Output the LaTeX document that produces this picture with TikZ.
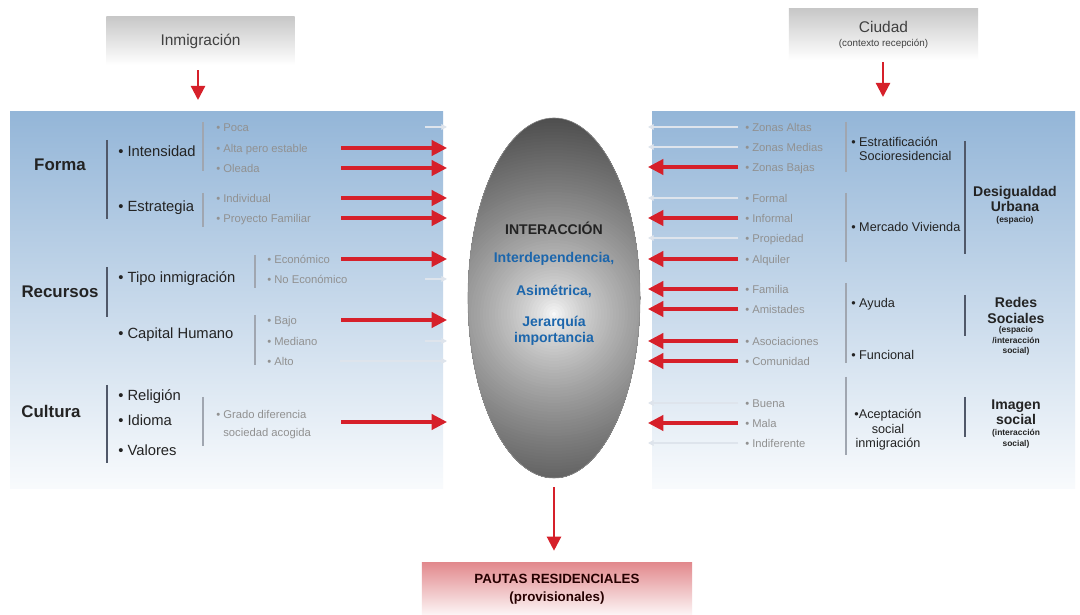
\documentclass[tikz,border=0pt]{standalone}
\usepackage{fontspec}
\setmainfont{Liberation Sans}
\usetikzlibrary{arrows.meta,shapes.geometric}

\definecolor{rojo}{RGB}{214,32,42}
\definecolor{azulpanel}{RGB}{148,182,216}
\definecolor{textogris}{RGB}{145,145,145}
\definecolor{oscuro}{RGB}{35,35,35}
\definecolor{azultexto}{RGB}{28,102,172}
\definecolor{grisosc}{RGB}{80,88,105}
\definecolor{grisclr}{RGB}{160,166,176}
\definecolor{tenuecol}{RGB}{222,228,236}
\definecolor{rosa}{RGB}{226,138,142}
\definecolor{griscaja}{RGB}{200,200,200}

\begin{document}
\begin{tikzpicture}[x=0.025cm, y=-0.025cm,
    flecha/.style={rojo, line width=2.2pt, -{Triangle[length=11pt,width=11pt]}},
    flechav/.style={rojo, line width=1.6pt, -{Triangle[length=10pt,width=10pt]}},
    tenue/.style={tenuecol, line width=0.8pt, -{Triangle[length=4pt,width=4pt]}},
    titulo/.style={font=\bfseries\fontsize{12}{14}\selectfont, text=oscuro},
    tituloder/.style={font=\bfseries\fontsize{10}{11}\selectfont, text=oscuro, align=center, inner sep=0pt},
    nota/.style={font=\bfseries\fontsize{6}{7.5}\selectfont, text=oscuro, align=center, inner sep=0pt},
    subiz/.style={font=\fontsize{10.5}{12}\selectfont, text=oscuro, anchor=west, inner sep=0pt, text height=1.6ex, text depth=0.4ex},
    subder/.style={font=\fontsize{9}{10.3}\selectfont, text=oscuro, inner sep=0pt},
    elem/.style={font=\fontsize{8}{9.5}\selectfont, text=textogris, anchor=west, inner sep=0pt, text height=1.6ex, text depth=0.4ex},
    centro/.style={font=\bfseries\fontsize{10}{11.3}\selectfont, text=azultexto, align=center},
    barraosc/.style={grisosc, line width=1.1pt},
    barraclr/.style={grisclr, line width=0.8pt},
    caja/.style={inner sep=0pt, align=center, text=black!75}]
  % Fond
  \fill[white] (0,0) rectangle (1080,615);
  \useasboundingbox (0,0) rectangle (1080,615);

  % Panneaux
  \shade[top color=azulpanel, bottom color=white!94!azulpanel] (10,112) rectangle (443,489);
  \shade[top color=azulpanel, bottom color=white!94!azulpanel] (652,112) rectangle (1075,489);

  % Boites du haut
  \node[caja, top color=griscaja, bottom color=white, minimum width=4.7cm, minimum height=1.2cm,
    font=\fontsize{11}{13}\selectfont] (inm) at (200.5,41) {Inmigración};
  \node[caja, top color=griscaja, bottom color=white, minimum width=4.725cm, minimum height=1.275cm]
    (ciudad) at (883.5,34.5) {{\fontsize{11}{13}\selectfont Ciudad}\\[-2pt]{\fontsize{7}{8}\selectfont (contexto recepción)}};
  \coordinate (binm) at (198,100);
  \coordinate (bciu) at (883,97);
  \draw[flechav, shorten <=0.125cm] (inm.south -| binm) -- (binm);
  \draw[flechav, shorten <=0.05cm] (ciudad.south -| bciu) -- (bciu);

  % Ellipse centrale (degrade en anneaux)
  \begin{scope}
    \clip (554,298) ellipse [x radius=86, y radius=180];
    \foreach \r in {200,197,...,2} {
      \pgfmathsetmacro\pct{70*(\r/200)^0.7}
      \fill[black!\pct] (554,314) circle [radius=\r];
    }
  \end{scope}
  \node[ellipse, draw=black!45, thin, minimum width=4.3cm, minimum height=9cm,
    inner sep=0pt] (inter) at (554,298) {};
  \node[font=\bfseries\fontsize{10}{12}\selectfont, text=oscuro] (titinter) at (554,228) {INTERACCIÓN};
  \node[centro] (interdep) at (554,259) {Interdependencia,};
  \node[centro] (asim) at (554,291) {Asimétrica,};
  \node[centro] (jerar) at (554,331) {Jerarquía\\importancia};

  % Boite du bas
  \node[caja, top color=rosa, bottom color=white!92!rosa, minimum width=6.75cm, minimum height=1.3cm,
    font=\bfseries\fontsize{9.5}{12.5}\selectfont, text=black!85!red] (pautas) at (557,589)
    {PAUTAS RESIDENCIALES\\(provisionales)};
  \draw[flechav, shorten <=0.225cm, shorten >=0.3cm] (inter.south) -- (pautas.north -| inter.south);

  % Colonne gauche
  \node[titulo] (forma) at (60,165) {Forma};
  \node[titulo] (recursos) at (60,292) {Recursos};
  \node[titulo] (cultura) at (51,411) {Cultura};
  \foreach \y/\t/\n in {152/Intensidad/intens, 207/Estrategia/estrat, 278/Tipo inmigración/tipo,
      334/Capital Humano/capital, 396/Religión/relig, 421/Idioma/idioma, 451/Valores/valores}
    \node[subiz] (\n) at (118,\y) {• \t};
  \foreach \x/\y/\t/\n in {216/127/Poca/poca, 216/148/Alta pero estable/alta, 216/168/Oleada/oleada,
      216/198/Individual/indiv, 216/218/Proyecto Familiar/proy, 267/259/Económico/econ,
      267/279/No Económico/noecon, 267/320/Bajo/bajo, 267/341/Mediano/mediano, 267/361/Alto/alto}
    \node[elem] (\n) at (\x,\y) {• \t};
  \node[font=\fontsize{8}{13}\selectfont, text=textogris, anchor=west, inner sep=0pt, align=left]
    (grado) at (216,424.5) {• Grado diferencia\\\phantom{• }sociedad acogida};

  % Barres gauche
  \foreach \x/\a/\b in {107/140/219, 107/267/317, 107/385/463}
    \draw[barraosc] (\x,\a) -- (\x,\b);
  \foreach \x/\a/\b in {203/122/171, 203/193/227, 255/255/288, 255/315/365, 203/397/446}
    \draw[barraclr] (\x,\a) -- (\x,\b);

  % Fleches gauche
  \foreach \x/\y/\n in {425/127/poca, 425/279/noecon, 425/341/mediano, 340/361/alto} {
    \coordinate (it\n) at (\x,\y);
    \coordinate (ft\n) at (447,\y);
    \draw[tenue] (it\n) -- (ft\n);
  }
  \foreach \y/\n in {148/alta, 168/oleada, 198/indiv, 218/proy, 259/econ, 320/bajo, 422/grado} {
    \coordinate (i\n) at (341,\y);
    \coordinate (f\n) at (447,\y);
    \draw[flecha] (i\n) -- (f\n);
  }

  % Colonne droite
  \foreach \y/\t/\n in {127/Zonas Altas/zaltas, 147/Zonas Medias/zmedias, 167/Zonas Bajas/zbajas,
      198/Formal/formal, 218/Informal/informal, 238/Propiedad/propiedad, 259/Alquiler/alquiler,
      289/Familia/familia, 309/Amistades/amistades, 341/Asociaciones/asoc, 361/Comunidad/comun,
      403/Buena/buena, 423/Mala/mala, 443/Indiferente/indif}
    \node[elem] (\n) at (745,\y) {• \t};
  \node[subder, anchor=west, align=left] (estrat2) at (851,149) {• Estratificación\\\phantom{• }Socioresidencial};
  \node[subder, anchor=west] (mercado) at (851,227) {• Mercado Vivienda};
  \node[subder, anchor=west] (ayuda) at (851,304) {• Ayuda};
  \node[subder, anchor=west] (funcional) at (851,355) {• Funcional};
  \node[subder, align=center, font=\fontsize{9}{10.4}\selectfont] (acept) at (888,430) {•Aceptación\\social\\inmigración};
  \node[tituloder] (desig) at (1015,199) {Desigualdad\\Urbana};
  \node[nota] (designota) at (1015,220) {(espacio)};
  \node[tituloder] (redes) at (1016,310.5) {Redes\\Sociales};
  \node[nota] (redesnota) at (1016,341) {(espacio\\/interacción\\social)};
  \node[tituloder] (imagen) at (1016,412.5) {Imagen\\social};
  \node[nota] (imagennota) at (1016,439) {(interacción\\social)};

  % Barres droite
  \foreach \x/\a/\b in {846/122/172, 846/193/262, 846/283/363, 846/377/455}
    \draw[barraclr] (\x,\a) -- (\x,\b);
  \foreach \x/\a/\b in {965/141/254, 965/295/336, 965/397/437}
    \draw[barraosc] (\x,\a) -- (\x,\b);

  % Fleches droite
  \foreach \y/\n in {127/zaltas, 147/zmedias, 198/formal, 238/propiedad, 403/buena, 443/indif} {
    \coordinate (it\n) at (738,\y);
    \coordinate (ft\n) at (648,\y);
    \draw[tenue] (it\n) -- (ft\n);
  }
  \foreach \y/\n in {167/zbajas, 218/informal, 259/alquiler, 289/familia, 309/amistades,
      341/asoc, 361/comun, 423/mala} {
    \coordinate (i\n) at (738,\y);
    \coordinate (f\n) at (648,\y);
    \draw[flecha] (i\n) -- (f\n);
  }
\end{tikzpicture}
\end{document}
